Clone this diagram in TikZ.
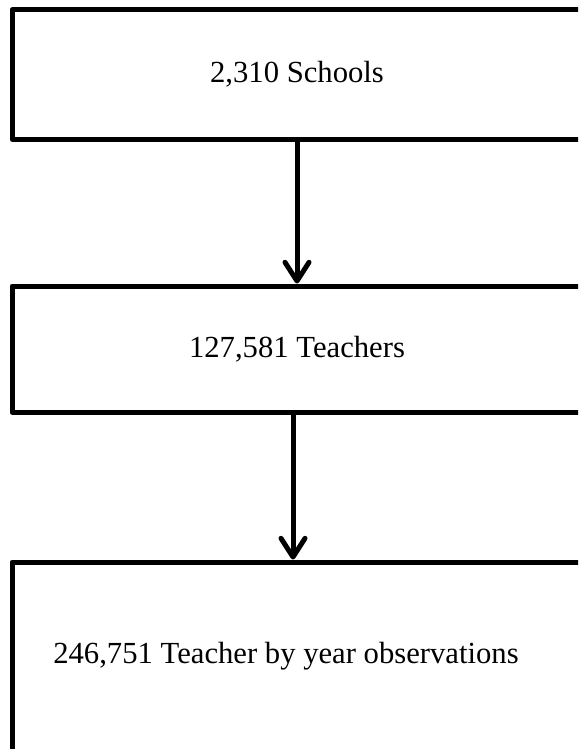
\documentclass[tikz,border=0pt]{standalone}
\usepackage{fontspec}
\setmainfont{Liberation Serif}
\usepackage{tikz}
\usetikzlibrary{arrows.meta, positioning}

\begin{document}
\begin{tikzpicture}[
    x=0.75pt, y=-0.75pt,
    % Styles
    stagebox/.style={rectangle, draw=black, line width=3.75pt, line join=round, fill=white, minimum width=427.5pt, align=center, font=\fontsize{23}{28}\selectfont},
    arrow/.style={-{Straight Barb[length=14pt, width=18pt, round]}, line width=3.75pt, color=black}
]
\useasboundingbox (0,0) rectangle (578,749);
\clip (0,0) rectangle (578,749);

% Stages
\node[stagebox, minimum height=96.75pt] (schools) at (297,74.5) {2,310 Schools};
\node[stagebox, minimum height=94.5pt] (teachers) at (297,349) {127,581 Teachers};
\node[stagebox, minimum height=141.75pt] (obs) at (297,656.5) {246,751 Teacher by year observations\hspace*{16.5pt}};

% Arrows between boxes
\draw[arrow] (schools.south) -- (teachers.north);
\draw[arrow] ([xshift=-3pt]teachers.south) -- ([xshift=-3pt]obs.north);

\end{tikzpicture}
\end{document}
